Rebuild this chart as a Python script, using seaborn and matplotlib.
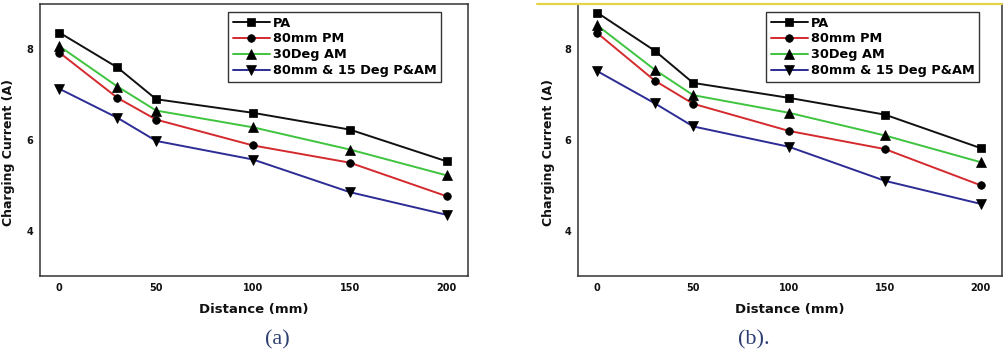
import matplotlib
matplotlib.use('Agg')
import matplotlib.pyplot as plt
from matplotlib.lines import Line2D
import seaborn as sns
import pandas as pd

# distance values (mm) shared by both panels
distance = [0, 30, 50, 100, 150, 200]

series_names = ['PA', '80mm PM', '30Deg AM', '80mm & 15 Deg P&AM']

# panel (a) charging current (A)
a_pa = [8.37, 7.60, 6.90, 6.60, 6.23, 5.53]
a_pm = [7.93, 6.93, 6.45, 5.88, 5.50, 4.76]
a_am = [8.07, 7.18, 6.65, 6.28, 5.79, 5.22]
a_pam = [7.13, 6.49, 5.98, 5.57, 4.85, 4.35]

# panel (b) charging current (A)
b_pa = [8.81, 7.97, 7.26, 6.93, 6.56, 5.82]
b_pm = [8.36, 7.31, 6.80, 6.20, 5.80, 5.00]
b_am = [8.53, 7.55, 6.99, 6.60, 6.10, 5.51]
b_pam = [7.52, 6.81, 6.30, 5.85, 5.10, 4.59]

x_ticks = [0, 50, 100, 150, 200]
y_ticks = [4, 6, 8]

line_colors = ['#111111', '#d42a2e', '#3ec43e', '#2c2c94']
markers = ['s', 'o', '^', 'v']
marker_sizes = [5.5, 5.5, 6.5, 6.5]

sns.set_style('white')
plt.rcParams['font.family'] = ['DejaVu Sans']


def make_df(cols):
    """long table for one panel"""
    rows = []
    for name, vals in zip(series_names, cols):
        for d, v in zip(distance, vals):
            rows.append({'distance': d, 'current': v, 'series': name})
    return pd.DataFrame(rows)


def draw_panel(fig, ax, df, legend_anchor, label_x):
    for name, color, mk, ms in zip(series_names, line_colors, markers, marker_sizes):
        sub = df[df['series'] == name]
        sns.lineplot(data=sub, x='distance', y='current', ax=ax, color=color,
                     marker=mk, markersize=ms, markerfacecolor='black',
                     markeredgecolor='black', markeredgewidth=0.5,
                     linewidth=1.4, label=name)
    ax.set_xlim(-10, 211)
    ax.set_ylim(3, 9)
    ax.set_xticks(x_ticks)
    ax.set_yticks(y_ticks)
    ax.tick_params(direction='in', length=4, width=1, colors='#333333',
                   labelsize=7, pad=5)
    for lbl in ax.get_xticklabels() + ax.get_yticklabels():
        lbl.set_fontweight('bold')
        lbl.set_color('#111111')
    for sp in ax.spines.values():
        sp.set_color('#333333')
        sp.set_linewidth(1.1)
    ax.set_xlabel('Distance (mm)', fontsize=9.5, fontweight='bold', color='#111111')
    ax.set_ylabel('Charging Current (A)', fontsize=9, fontweight='bold', color='#111111')
    ax.yaxis.set_label_coords(label_x, 0.455)
    ax.xaxis.set_label_coords(0.5, -0.1)
    leg = ax.legend(loc='upper left', bbox_to_anchor=legend_anchor,
                    bbox_transform=fig.transFigure, frameon=True, fancybox=False,
                    edgecolor='#333333', framealpha=1, handlelength=2.9,
                    handletextpad=0.2, labelspacing=0.22, borderpad=0.35,
                    borderaxespad=0, prop={'weight': 'bold', 'size': 9.3})
    for t in leg.get_texts():
        t.set_color('black')


fig = plt.figure(figsize=(10.07, 3.56), dpi=100)
fig.patch.set_facecolor('white')

ax_a = fig.add_axes([0.0397, 0.2247, 0.425, 0.764])
ax_b = fig.add_axes([0.574, 0.2247, 0.421, 0.764])

draw_panel(fig, ax_a, make_df([a_pa, a_pm, a_am, a_pam]), (0.2264, 0.9663), -0.058)
draw_panel(fig, ax_b, make_df([b_pa, b_pm, b_am, b_pam]), (0.7607, 0.9663), -0.054)

# yellow line along the top of panel (b)
fig.add_artist(Line2D([537 / 1007, 1002 / 1007], [1 - 4 / 356, 1 - 4 / 356],
                      transform=fig.transFigure, color='#e3d448', linewidth=1.6))

cap_style = dict(fontsize=16, color='#2c3f70', ha='center', va='center',
                 family=['Liberation Serif', 'DejaVu Serif'])
fig.text(277 / 1007, 1 - 340 / 356, '(a)', **cap_style)
fig.text(754 / 1007, 1 - 340 / 356, '(b).', **cap_style)

fig.savefig('out.png', dpi=100, facecolor='white')
